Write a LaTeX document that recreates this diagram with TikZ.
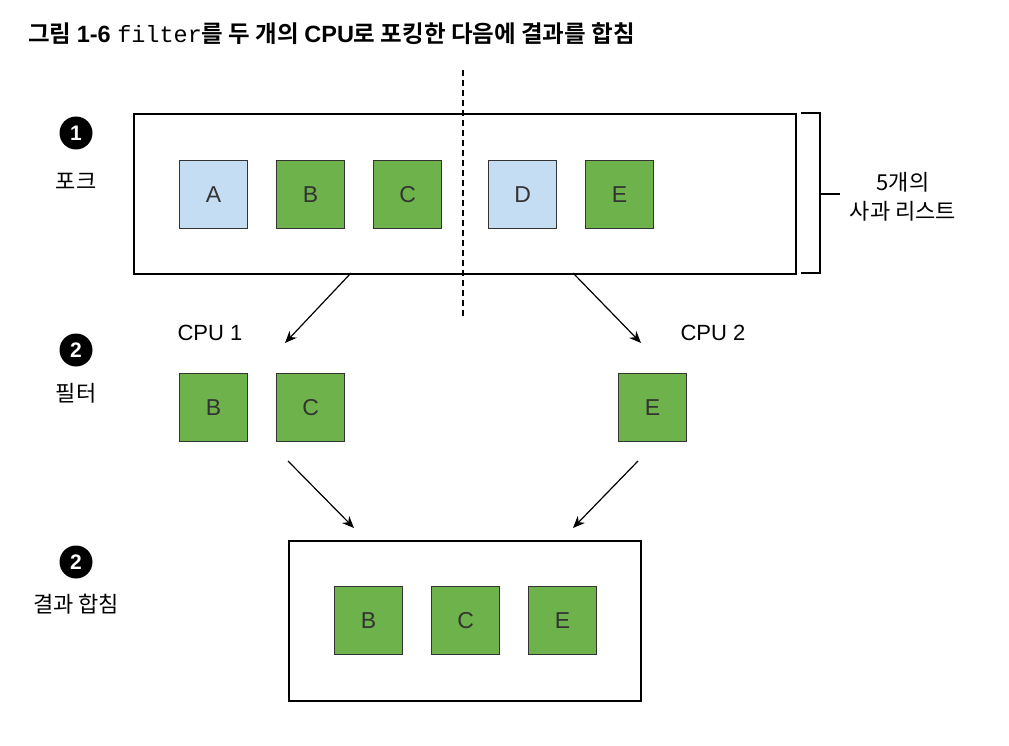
\documentclass[tikz,border=0pt]{standalone}
\usepackage{fontspec}
\setmainfont{Liberation Sans}
\newfontfamily\kr{Noto Sans CJK KR}
\newfontfamily\krb{Noto Sans CJK KR Bold}
\setmonofont{Liberation Mono}
\usetikzlibrary{arrows.meta}
\definecolor{lblue}{HTML}{C5DDF2}
\definecolor{lgreen}{HTML}{6DB24B}
\definecolor{bordergray}{HTML}{333333}
\tikzset{
  x=1pt,y=-1pt,
  sq/.style={draw=bordergray,line width=1.2pt,minimum size=68pt,inner sep=0pt,anchor=north west,font=\fontsize{23}{25}\selectfont,text=bordergray},
  bsq/.style={sq,fill=lblue},
  gsq/.style={sq,fill=lgreen},
  frame/.style={draw=black,line width=1.6pt,anchor=north west,inner sep=0pt},
  num/.style={circle,fill=black,minimum size=33pt,inner sep=0pt,text=white,font=\bfseries\fontsize{21}{22}\selectfont},
  lbl/.style={font=\kr\fontsize{22}{26}\selectfont,inner sep=0pt},
  cpu/.style={font=\fontsize{22}{24}\selectfont,inner sep=0pt},
  arr/.style={-{Stealth[length=12pt,width=10pt]},line width=1.2pt},
}
\begin{document}
\begin{tikzpicture}
\useasboundingbox (0,0) rectangle (1009,746);
% title
\node[anchor=base west,inner sep=0pt,font=\fontsize{23.5}{26}\selectfont] (title) at (28,43)
  {{\krb 그림 }\textbf{1-6} \texttt{filter}{\krb 를 두 개의 }\textbf{CPU}{\krb 로 포킹한 다음에 결과를 합침}};
% top frame
\node[frame,minimum width=662pt,minimum height=160pt] (top) at (133,113) {};
\node[bsq] (A) at (179,160) {A};
\node[gsq] (B) at (276,160) {B};
\node[gsq] (C) at (373,160) {C};
\node[bsq] (D) at (488,160) {D};
\node[gsq] (E) at (585,160) {E};
% dashed divider
\coordinate (dtop) at (463,70);
\coordinate (dbot) at (463,318);
\draw[line width=1.3pt,dash pattern=on 6pt off 4pt] (dtop) -- (dbot);
% bracket
\coordinate (br1) at (801,113);
\coordinate (br2) at (820,113);
\coordinate (br3) at (820,273);
\coordinate (br4) at (801,273);
\coordinate (brm) at (820,194);
\coordinate (brt) at (840,194);
\draw[line width=1.2pt] (br1) -- (br2) -- (br3) -- (br4);
\draw[line width=1.2pt] (brm) -- (brt);
\node[lbl,align=center] (apples) at (903,197) {5개의\\[3pt]사과 리스트};
% step 1
\node[num] (n1) at (76,133) {1};
\node[lbl] (fork) at (76,181) {포크};
% arrows down
\coordinate (a1s) at (351,273);
\coordinate (a1e) at (285,343);
\coordinate (a2s) at (573,273);
\coordinate (a2e) at (641,343);
\draw[arr] (a1s) -- (a1e);
\draw[arr] (a2s) -- (a2e);
\node[cpu] (cpu1) at (210,333) {CPU 1};
\node[cpu] (cpu2) at (713,333) {CPU 2};
% step 2
\node[num] (n2) at (76,350) {2};
\node[lbl] (filt) at (76,393) {필터};
\node[gsq] (B2) at (179,373) {B};
\node[gsq] (C2) at (276,373) {C};
\node[gsq] (E2) at (618,373) {E};
% arrows to merge
\coordinate (a3s) at (288,461);
\coordinate (a3e) at (354,528);
\coordinate (a4s) at (638,461);
\coordinate (a4e) at (573,528);
\draw[arr] (a3s) -- (a3e);
\draw[arr] (a4s) -- (a4e);
% step 3
\node[num] (n3) at (76,562) {2};
\node[lbl] (merge) at (76,604) {결과 합침};
\node[frame,minimum width=352pt,minimum height=160pt] (bot) at (288,540) {};
\node[gsq] (B3) at (334,586) {B};
\node[gsq] (C3) at (431,586) {C};
\node[gsq] (E3) at (528,586) {E};
\end{tikzpicture}
\end{document}
